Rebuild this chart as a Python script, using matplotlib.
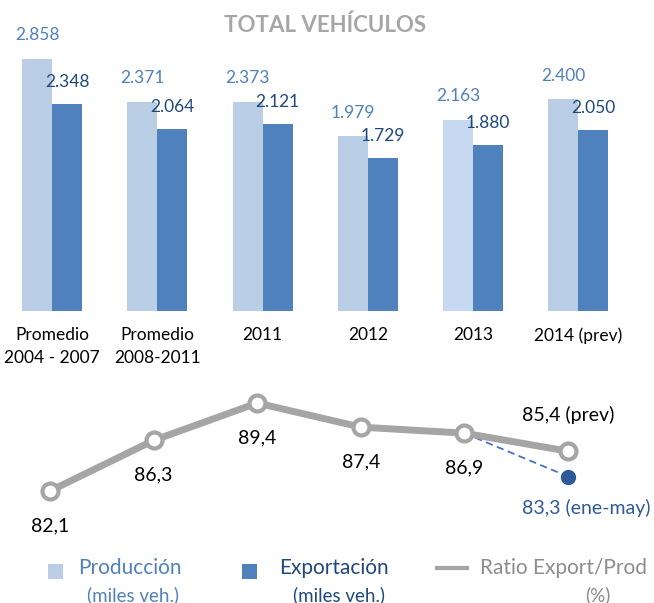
import matplotlib
matplotlib.use("Agg")
import matplotlib.pyplot as plt
from matplotlib.patches import Rectangle
from matplotlib.lines import Line2D

plt.rcParams['font.family'] = ['Lato', 'DejaVu Sans']

# ---- data ----
categories = ["Promedio\n2004 - 2007", "Promedio\n2008-2011", "2011", "2012", "2013", "2014 (prev)"]
produccion = [2858, 2371, 2373, 1979, 2163, 2400]
exportacion = [2348, 2064, 2121, 1729, 1880, 2050]
ratio = [82.1, 86.3, 89.4, 87.4, 86.9, 85.4]
ratio_ene_may = 83.3
ratio_label_suffix = ["", "", "", "", "", " (prev)"]
title = "TOTAL VEHÍCULOS"

W, H = 654, 603
fig = plt.figure(figsize=(W / 100, H / 100), dpi=100)
fig.patch.set_facecolor("white")


def fx(x):
    return x / W


def fy(y):
    return 1 - y / H


LIGHT = "#b9cde5"
LIGHT_2013 = "#c6d9f1"
DARK = "#4f81bd"
PROD_TXT = "#4f81bd"
EXP_TXT = "#1f497d"
GRAY = "#a5a5a5"
GRAY_TXT = "#8c8c8c"

# ---- bar axes ----
base_px, top_px = 311, 40
group_step = 105.2
first_center = 52.3
ax = fig.add_axes([0, fy(base_px), 1, (base_px - top_px) / H])
ax.set_xlim(-first_center / group_step, (W - first_center) / group_step)
ax.set_ylim(0, (base_px - top_px) * 11.33)
ax.axis("off")

n = len(categories)
xs = list(range(n))
bw = 30 / group_step
light_colors = [LIGHT if c != "2013" else LIGHT_2013 for c in categories]
ax.bar([x - bw / 2 for x in xs], produccion, width=bw, color=light_colors, linewidth=0)
ax.bar([x + bw / 2 for x in xs], exportacion, width=bw, color=DARK, linewidth=0)


def fmt_thousands(v):
    return f"{v:,}".replace(",", ".")


for x, p, e in zip(xs, produccion, exportacion):
    ax.annotate(fmt_thousands(p), (x - bw / 2, p), xytext=(0, 17), textcoords="offset points",
                ha="center", va="center", fontsize=12.5, color=PROD_TXT)
    ax.annotate(fmt_thousands(e), (x + bw / 2, e), xytext=(0, 16), textcoords="offset points",
                ha="center", va="center", fontsize=12.5, color=EXP_TXT)

for x, cat in zip(xs, categories):
    for k, line in enumerate(cat.split("\n")):
        ax.annotate(line, (x, 0), xytext=(0, -17.5 - 16.5 * k), textcoords="offset points",
                    ha="center", va="center", fontsize=12.5, color="black", annotation_clip=False)

# ---- line axes ----
lx0, lstep = 50, 103.6
y_ref_px, y_ref_val, px_per_unit = 491, 82.1, 12.05
lax = fig.add_axes([0, 0, 1, 1])
lax.patch.set_alpha(0)
lax.set_xlim(-lx0 / lstep, (W - lx0) / lstep)
lax.set_ylim(y_ref_val - (H - y_ref_px) / px_per_unit, y_ref_val + y_ref_px / px_per_unit)
lax.axis("off")

lax.plot([4, 5], [ratio[4], ratio_ene_may], color="#4472c4", lw=1.3, ls=(0, (4, 2.5)), zorder=2)
lax.plot(xs, ratio, color=GRAY, lw=5, marker="o", markersize=11.5, markerfacecolor="white",
         markeredgecolor=GRAY, markeredgewidth=3, zorder=3, solid_capstyle="butt")
lax.plot([5], [ratio_ene_may], marker="o", markersize=10, color="#2e5a99",
         markeredgecolor="#2e5a99", zorder=4)

for x, v, suf in zip(xs, ratio, ratio_label_suffix):
    txt = f"{v:.1f}".replace(".", ",") + suf
    dy = 26 if suf else -25
    lax.annotate(txt, (x, v), xytext=(0, dy), textcoords="offset points",
                 ha="center", va="center", fontsize=14, color="black")
lax.annotate(f"{ratio_ene_may:.1f}".replace(".", ",") + " (ene-may)", (5, ratio_ene_may),
             xytext=(13.5, -22.5), textcoords="offset points", ha="center", va="center",
             fontsize=14, color="#2e5a99")

# ---- title ----
fig.text(fx(325), fy(25), title, ha="center", va="center", fontsize=16, fontweight="bold",
         color="#a6a6a6")

# ---- legend ----
fig.patches.append(Rectangle((fx(48), fy(579)), 15 / W, 15 / H, transform=fig.transFigure,
                             facecolor=LIGHT, edgecolor="none"))
fig.patches.append(Rectangle((fx(242), fy(579)), 15 / W, 15 / H, transform=fig.transFigure,
                             facecolor=DARK, edgecolor="none"))
fig.lines.append(Line2D([fx(437), fx(467)], [fy(568), fy(568)], transform=fig.transFigure,
                        color=GRAY, lw=3))
fig.text(fx(130), fy(568), "Producción", ha="center", va="center", fontsize=15, color=PROD_TXT)
fig.text(fx(133), fy(595), "(miles veh.)", ha="center", va="center", fontsize=13.5, color=PROD_TXT)
fig.text(fx(334), fy(568), "Exportación", ha="center", va="center", fontsize=15, color=EXP_TXT)
fig.text(fx(339), fy(595), "(miles veh.)", ha="center", va="center", fontsize=13.5, color=EXP_TXT)
fig.text(fx(563), fy(568), "Ratio Export/Prod", ha="center", va="center", fontsize=15, color=GRAY_TXT)
fig.text(fx(598), fy(595), "(%)", ha="center", va="center", fontsize=13.5, color=GRAY_TXT)

fig.savefig("out.png", dpi=100, facecolor="white")
